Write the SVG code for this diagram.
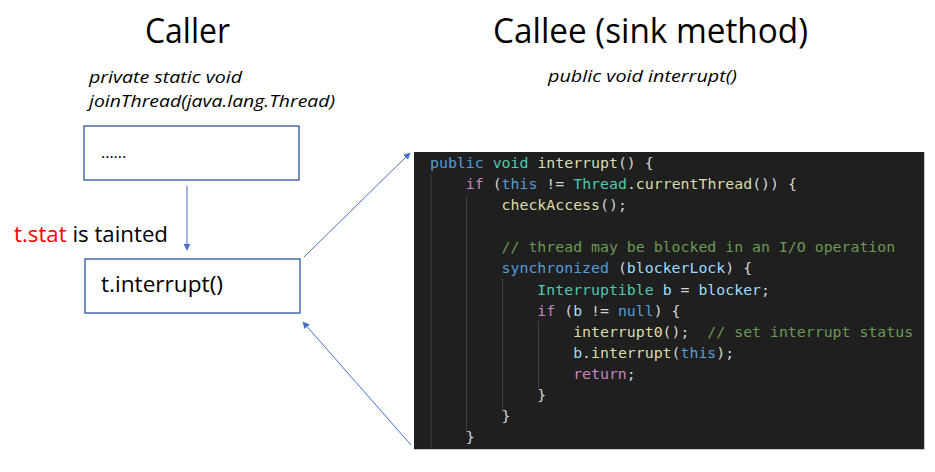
<svg xmlns="http://www.w3.org/2000/svg" width="935" height="472" viewBox="0 0 935 472">
<defs>
<style>
.title{font-family:"Open Sans","Noto Sans",sans-serif;font-size:35px;fill:#000}
.sig{font-family:"Open Sans","Noto Sans",sans-serif;font-size:17px;font-style:italic;fill:#000}
.lbl{font-family:"Open Sans","Noto Sans",sans-serif;font-size:21px;fill:#000}
.box{fill:#fff;stroke:#2f5597;stroke-width:1.3}
.conn{stroke:#4472c4;stroke-width:1;fill:none;marker-end:url(#ah)}
.code{font-family:"DejaVu Sans Mono",monospace;font-size:14.87px;fill:#d4d4d4;white-space:pre}
.guide{stroke:#404040;stroke-width:1}
.kw{fill:#569cd6}.ty{fill:#4ec9b0}.ct{fill:#c586c0}.fn{fill:#dcdcaa}.vr{fill:#9cdcfe}.cm{fill:#6a9955}
</style>
<marker id="ah" viewBox="0 0 10 10" refX="9" refY="5" markerWidth="7" markerHeight="7" markerUnits="userSpaceOnUse" orient="auto">
<path d="M0,0 L10,5 L0,10 z" fill="#4472c4"/>
</marker>
</defs>
<rect width="935" height="472" fill="#fff"/>

<g id="titles">
<text class="title" x="145" y="43" textLength="85" lengthAdjust="spacingAndGlyphs">Caller</text>
<text class="title" x="493" y="43" textLength="315" lengthAdjust="spacingAndGlyphs">Callee (sink method)</text>
<text class="sig" x="89" y="83" textLength="153" lengthAdjust="spacingAndGlyphs">private static void</text>
<text class="sig" x="89" y="107" textLength="246" lengthAdjust="spacingAndGlyphs">joinThread(java.lang.Thread)</text>
<text class="sig" x="548" y="82" textLength="189" lengthAdjust="spacingAndGlyphs">public void interrupt()</text>
</g>

<g id="node-caller-body">
<rect class="box" x="84" y="126" width="215" height="54"/>
<text class="lbl" x="101" y="158" style="font-size:16px">......</text>
</g>

<g id="label-tainted">
<text class="lbl" x="14" y="242" textLength="154" lengthAdjust="spacingAndGlyphs"><tspan fill="#ff0000">t.stat</tspan> is tainted</text>
</g>

<g id="node-call">
<rect class="box" x="85" y="259" width="215" height="54"/>
<text class="lbl" x="101" y="292" textLength="122" lengthAdjust="spacingAndGlyphs">t.interrupt()</text>
</g>

<g id="node-callee-code">
<rect x="414" y="152" width="510" height="297" fill="#1f1f1f"/>
<line x1="924.5" y1="152" x2="924.5" y2="449.5" stroke="#c8c8c8" stroke-width="1"/>
<line x1="414" y1="449.5" x2="925" y2="449.5" stroke="#c8c8c8" stroke-width="1"/>
<line class="guide" x1="431" y1="174" x2="431" y2="449"/>
<line class="guide" x1="466.5" y1="196" x2="466.5" y2="432"/>
<line class="guide" x1="502.5" y1="279" x2="502.5" y2="412"/>
<line class="guide" x1="538.5" y1="321" x2="538.5" y2="388"/>
<text class="code" x="430" y="168"><tspan class="kw">public</tspan> <tspan class="ty">void</tspan> <tspan class="fn">interrupt</tspan>() {</text>
<text class="code" x="430" y="189.1">    <tspan class="ct">if</tspan> (<tspan class="kw">this</tspan> != <tspan class="ty">Thread</tspan>.<tspan class="fn">currentThread</tspan>()) {</text>
<text class="code" x="430" y="210.2">        <tspan class="fn">checkAccess</tspan>();</text>
<text class="code" x="430" y="252.3">        <tspan class="cm">// thread may be blocked in an I/O operation</tspan></text>
<text class="code" x="430" y="273.4">        <tspan class="kw">synchronized</tspan> (<tspan class="vr">blockerLock</tspan>) {</text>
<text class="code" x="430" y="294.5">            <tspan class="ty">Interruptible</tspan> <tspan class="vr">b</tspan> = <tspan class="vr">blocker</tspan>;</text>
<text class="code" x="430" y="315.6">            <tspan class="ct">if</tspan> (<tspan class="vr">b</tspan> != <tspan class="kw">null</tspan>) {</text>
<text class="code" x="430" y="336.6">                <tspan class="fn">interrupt0</tspan>();  <tspan class="cm">// set interrupt status</tspan></text>
<text class="code" x="430" y="357.7">                <tspan class="vr">b</tspan>.<tspan class="fn">interrupt</tspan>(<tspan class="kw">this</tspan>);</text>
<text class="code" x="430" y="378.8">                <tspan class="ct">return</tspan>;</text>
<text class="code" x="430" y="399.9">            }</text>
<text class="code" x="430" y="421">        }</text>
<text class="code" x="430" y="442">    }</text>
</g>

<g id="connectors">
<line class="conn" x1="187" y1="186" x2="187" y2="250"/>
<line class="conn" x1="304" y1="257" x2="410" y2="153"/>
<line class="conn" x1="411" y1="445" x2="303" y2="322"/>
</g>
</svg>
